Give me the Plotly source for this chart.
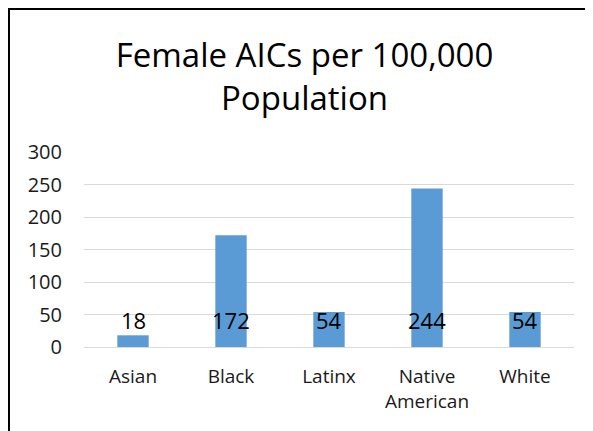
import plotly.graph_objects as go

categories = ["Asian", "Black", "Latinx", "Native<br>American", "White"]
values = [18, 172, 54, 244, 54]
label_texts = ["18", "172", "54", "244", "54"]
y_ticks = [0, 50, 100, 150, 200, 250, 300]

FONT = "Open Sans, Noto Sans, sans-serif"

fig = go.Figure()
fig.add_trace(go.Bar(
    x=categories, y=values,
    marker=dict(color="#5B9BD5", line=dict(width=0)),
    width=0.32,
    hoverinfo="skip",
))

for c, v, t in zip(categories, values, label_texts):
    fig.add_annotation(x=c, y=0, text=t, showarrow=False, yanchor="bottom",
                       yshift=10, font=dict(family=FONT, size=22, color="#000000"))

fig.add_shape(type="rect", xref="paper", yref="paper",
              x0=-0.1531, y0=-0.8, x1=1.2, y1=1.7333,
              line=dict(color="#000000", width=2), fillcolor="rgba(0,0,0,0)", layer="below")

fig.update_layout(
    width=593, height=431,
    margin=dict(l=76, r=27, t=144, b=92),
    paper_bgcolor="white", plot_bgcolor="white",
    showlegend=False,
    title=dict(text="Female AICs per 100,000<br>Population", x=0.5, xanchor="center",
               y=0.863, yanchor="middle",
               font=dict(family=FONT, size=33, color="#000000")),
    bargap=0.68,
    xaxis=dict(showgrid=False, showline=False, ticks="", tickfont=dict(family=FONT, size=19, color="#1a1a1a"),
               ticklabelstandoff=16),
    yaxis=dict(range=[0, 300], tickvals=y_ticks, showgrid=True, gridcolor="#D9D9D9", gridwidth=1,
               zeroline=True, zerolinecolor="#D9D9D9", zerolinewidth=1, showline=False,
               tickfont=dict(family=FONT, size=20, color="#1a1a1a"), ticklabelstandoff=21),
)

fig.write_html("out.html")
